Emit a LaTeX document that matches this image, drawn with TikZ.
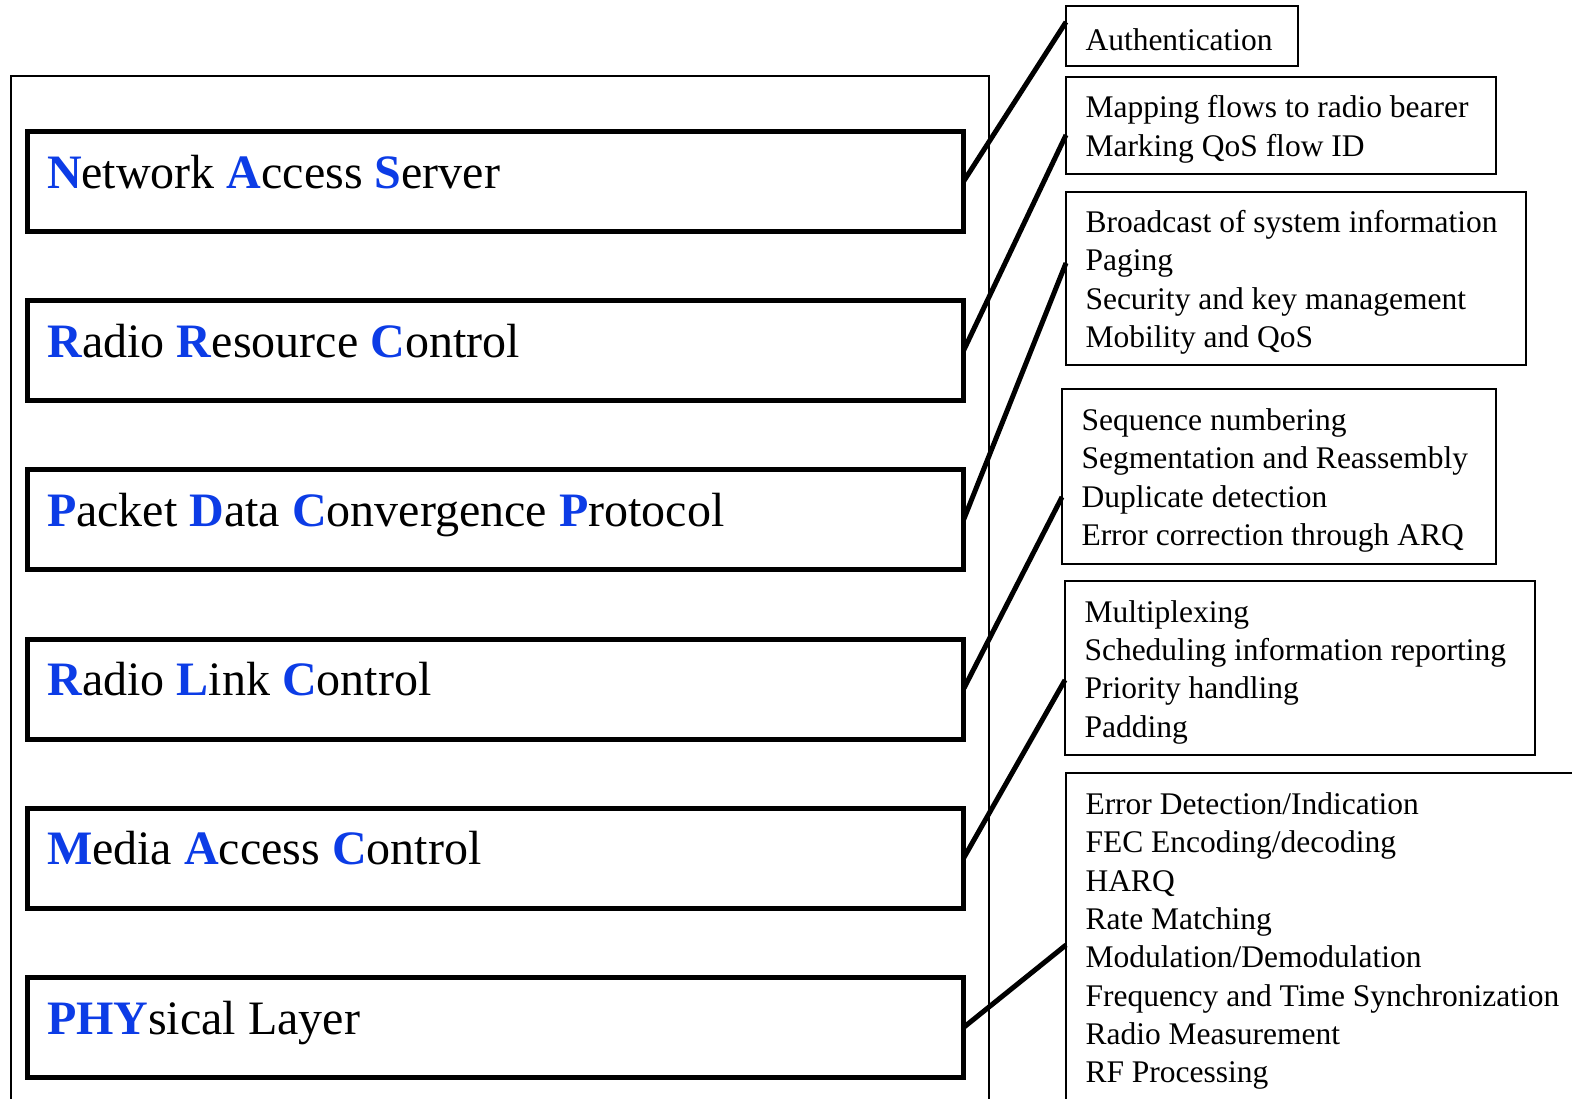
\documentclass[tikz,border=0pt]{standalone}
\usepackage{fontspec}
\setmainfont{Liberation Serif}
\usetikzlibrary{positioning}
\definecolor{layerblue}{RGB}{12,60,230}
\newcommand{\bl}[1]{\textcolor{layerblue}{\textbf{#1}}}

\begin{document}
\begin{tikzpicture}[x=1pt,y=-1pt,
    layer/.style={draw, line width=5pt, anchor=north west, outer sep=0pt,
        minimum height=100pt, text width=897pt, inner xsep=19.5pt, align=flush left,
        text height=36pt, text depth=23pt, font=\fontsize{48}{57}\selectfont},
    func/.style={draw, line width=2pt, anchor=north west, outer sep=0pt,
        inner xsep=19.5pt, align=flush left, font=\fontsize{31.5}{38.3}\selectfont,
        execute at begin node={\rule{0pt}{30pt}}},
    link/.style={line width=5pt}]
    \useasboundingbox (0,0) rectangle (1572,1098);
    \clip (0,0) rectangle (1572,1098);

    % Cornice esterna
    \draw[line width=2pt] (11,76) rectangle (989,1130);

    % Livelli
    \node[layer] (nas)  at (27.5,131.5) {\bl{N}etwork \bl{A}ccess \bl{S}erver};
    \node[layer] (rrc)  at (27.5,300.7) {\bl{R}adio \bl{R}esource \bl{C}ontrol};
    \node[layer] (pdcp) at (27.5,469.9) {\bl{P}acket \bl{D}ata \bl{C}onvergence \bl{P}rotocol};
    \node[layer] (rlc)  at (27.5,639.1) {\bl{R}adio \bl{L}ink \bl{C}ontrol};
    \node[layer] (mac)  at (27.5,808.3) {\bl{M}edia \bl{A}ccess \bl{C}ontrol};
    \node[layer] (phy)  at (27.5,977.5) {\bl{PHY}sical Layer};

    % Funzioni
    \node[func, text width=193pt, minimum height=60pt] (auth) at (1066,6) {Authentication};
    \node[func, text width=391pt, minimum height=97pt] (map) at (1066,77)
        {Mapping flows to radio bearer\\Marking QoS flow ID};
    \node[func, text width=421pt, minimum height=173pt] (bcast) at (1066,192)
        {Broadcast of system information\\Paging\\Security and key management\\Mobility and QoS};
    \node[func, text width=395pt, minimum height=175pt] (seq) at (1062,389)
        {Sequence numbering\\Segmentation and Reassembly\\Duplicate detection\\Error correction through ARQ};
    \node[func, text width=431pt, minimum height=174pt] (mux) at (1065,581)
        {Multiplexing\\Scheduling information reporting\\Priority handling\\Padding};
    \node[func, text width=485pt, minimum height=328pt] (err) at (1066,773)
        {Error Detection/Indication\\FEC Encoding/decoding\\HARQ\\Rate Matching\\Modulation/Demodulation\\
         Frequency and Time Synchronization\\Radio Measurement\\RF Processing};

    % Collegamenti
    \draw[link] (nas.east)  -- (auth.west |- 0,22);
    \draw[link] (rrc.east)  -- (map.west |- 0,135);
    \draw[link] (pdcp.east) -- (bcast.west |- 0,263);
    \draw[link] (rlc.east)  -- (seq.west |- 0,497);
    \draw[link] (mac.east)  -- (mux.west |- 0,680);
    \draw[link] (phy.east)  -- (err.west |- 0,945);
\end{tikzpicture}
\end{document}
